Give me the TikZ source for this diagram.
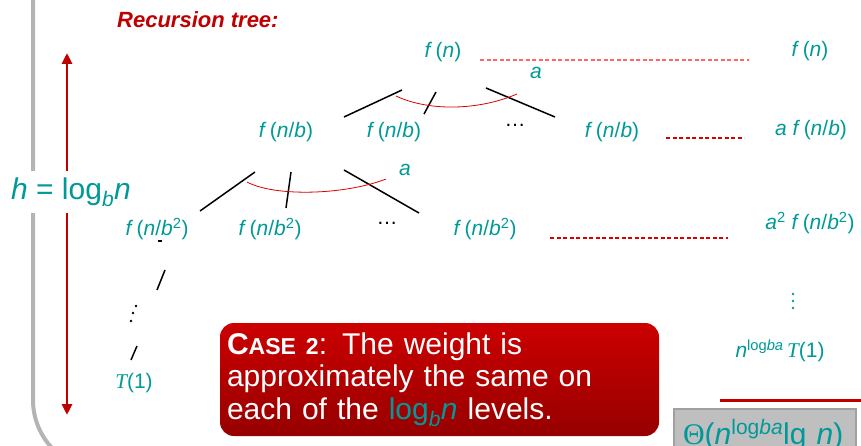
\documentclass[tikz,border=0pt]{standalone}
\usepackage{fontspec}
\setmainfont{Liberation Sans}
\newfontfamily\tmsfont{Liberation Serif}
\usetikzlibrary{arrows.meta}
\definecolor{rectext}{RGB}{0,153,153}
\definecolor{recred}{RGB}{192,0,0}
\definecolor{framegray}{RGB}{180,180,180}
\definecolor{boxtop}{RGB}{204,0,0}
\definecolor{boxbot}{RGB}{150,0,0}
\definecolor{thetafill}{RGB}{191,191,191}
\definecolor{thetaline}{RGB}{160,160,160}
\newcommand{\V}[1]{\textit{#1}}
\newcommand{\fof}[1]{\V{f}\,(#1)}
\newcommand{\Tone}{{\tmsfont\itshape T}(1)}
\newcommand{\logbn}{log\textsubscript{\V{b}}\V{n}}

\begin{document}
\begin{tikzpicture}[x=1pt,y=-1pt,font=\fontsize{21}{25}\selectfont,
  lbl/.style={text=rectext,inner sep=0pt},
  edge/.style={line width=1.5pt},
  wedge/.style={red!85!black,line width=0.8pt},
  level/.style={dash pattern=on 4pt off 2.5pt,line width=1.4pt}]
\useasboundingbox (0,0) rectangle (861,446);
\begin{scope}
\clip (0,0) rectangle (861,446);
\draw[framegray,line width=4pt,rounded corners=70pt] (33,-10)--(33,470)--(300,470);
\node[draw=thetaline,fill=thetafill,line width=2pt,anchor=north west,inner xsep=9pt,inner ysep=4pt,
  text height=31pt,text depth=8pt,text width=164pt,align=left,text=rectext,
  font=\fontsize{30}{34}\selectfont] (total) at (673,408)
  {{\tmsfont Θ}(\V{n}\textsuperscript{log\V{b}\V{a}}lg \V{n})};
\end{scope}

\coordinate (htop) at (67,53);
\coordinate (hbot) at (67,415);
\draw[recred,line width=2.8pt,{Triangle[length=11pt,width=10pt]}-{Triangle[length=11pt,width=10pt]}] (htop) -- (hbot);
\node[lbl,fill=white,inner xsep=2pt,inner ysep=7pt,font=\fontsize{30}{34}\selectfont] (height) at (71,192) {\V{h} = \logbn};

\node[anchor=base west,inner sep=0pt,text=recred,font=\fontsize{22}{26}\selectfont\bfseries\itshape] (title) at (117,28) {Recursion tree:};

% tree
\node[lbl] (root) at (443,52) {\fof{\V{n}}};
\foreach \name/\x in {c1/286,c2/394,c3/612}
  \node[lbl] (\name) at (\x,132) {\fof{\V{n}/\V{b}}};
\foreach \name/\x in {g1/157,g2/270,g3/485}
  \node[lbl] (\name) at (\x,229) {\fof{\V{n}/\V{b}\textsuperscript{2}}};
\node[inner sep=0pt] (cdots) at (515,125) {\dots};
\node[inner sep=0pt] (gdots) at (387,223) {\dots};
\node[lbl] (leaf) at (134,383) {\Tone};
\node[lbl] (a0) at (536,73) {\V{a}};
\node[lbl] (a1) at (405,170) {\V{a}};

\foreach \n/\x/\y in {t1/402/90,b1/344/117,t2/436/92,b2/424/114,t3/486/88,b3/555/117,
  t4/255/172,b4/200/211,t5/291/172,b5/286/208,t6/344/170,b6/419/213,
  t7/158/241,b7/162/241,t8/165/270,b8/157/290,t9/137/346,b9/131/360}
  \coordinate (\n) at (\x,\y);
\foreach \a/\b in {t1/b1,t2/b2,t3/b3,t4/b4,t5/b5,t6/b6,t7/b7,t8/b8,t9/b9}
  \draw[edge] (\a) -- (\b);
\coordinate (w0l) at (396,96); \coordinate (w0r) at (517,94);
\coordinate (w1l) at (247,182); \coordinate (w1r) at (386,179);
\draw[wedge] (w0l) .. controls (430,112) and (480,110) .. (w0r);
\draw[wedge] (w1l) .. controls (275,197) and (345,195) .. (w1r);
\foreach \x/\y in {136/306,133/313,131/321}
  \fill (\x,\y) circle (1.3pt);

% level sums
\node[lbl] (sum0) at (810,51) {\fof{\V{n}}};
\node[lbl] (sum1) at (811,130) {\V{a} \fof{\V{n}/\V{b}}};
\node[lbl] (sum2) at (810,223) {\V{a}\textsuperscript{2} \fof{\V{n}/\V{b}\textsuperscript{2}}};
\foreach \y in {294,301,308}
  \fill[rectext] (793,\y) circle (1.4pt);
\node[lbl] (sumleaf) at (780,351) {\V{n}\textsuperscript{log\V{b}\V{a}}\,\Tone};
\foreach \n/\x/\y in {d0l/480/60,d0r/749/60,d1l/666/138,d1r/744/138,d2l/550/238,d2r/728/238}
  \coordinate (\n) at (\x,\y);
\draw[level,red!60,line width=1.8pt] (d0l) -- (d0r);
\draw[level,red!85!black] (d1l) -- (d1r);
\draw[level,red!85!black] (d2l) -- (d2r);
\coordinate (rulel) at (720,400); \coordinate (ruler) at (861,400);
\draw[recred,line width=3pt] (rulel) -- (ruler);

\node[rounded corners=14pt,top color=boxtop,bottom color=boxbot,minimum width=439pt,minimum height=113pt,
  text width=425pt,inner xsep=7pt,align=left,text=white,font=\fontsize{30}{32.5}\selectfont] (case) at (439.5,379.5)
  {{\bfseries C{\fontsize{23}{26}\selectfont ASE 2}}: The weight is\\
   approximately the same on\\
   each of the \textcolor{rectext}{\logbn} levels.};
\end{tikzpicture}
\end{document}
